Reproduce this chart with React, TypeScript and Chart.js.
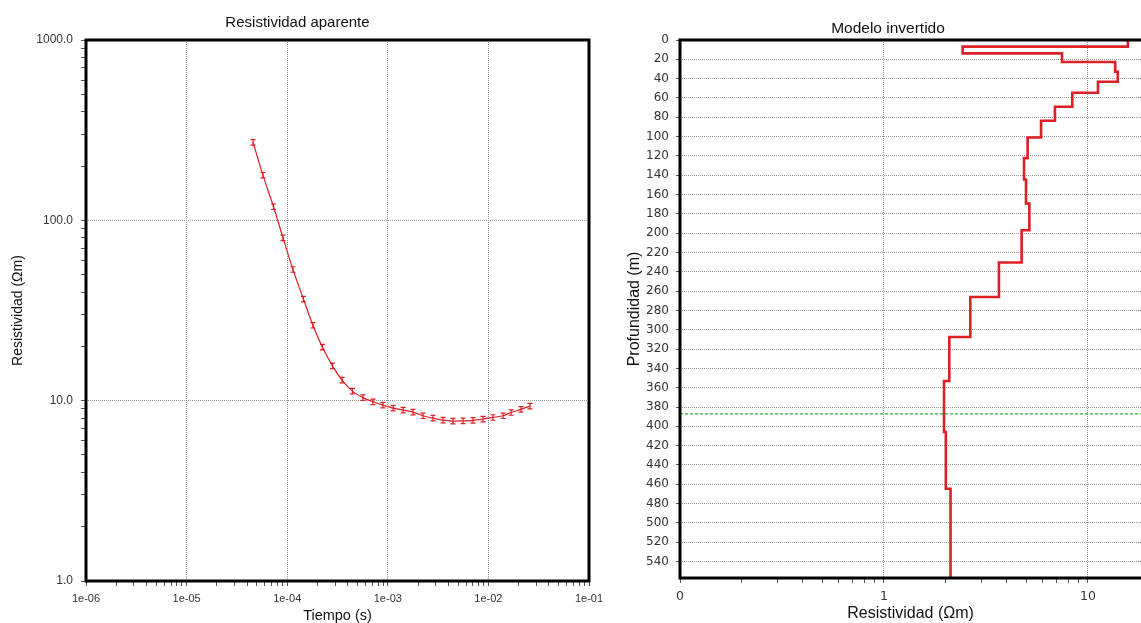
import React, { useEffect, useRef } from 'react';
import { Chart, registerables } from 'chart.js';

Chart.register(...registerables);

// ---------- Left chart: apparent resistivity ----------
const times = [4.57e-5, 5.74e-5, 7.31e-5, 9.08e-5, 1.14e-4, 1.45e-4, 1.80e-4, 2.24e-4, 2.82e-4, 3.51e-4, 4.45e-4, 5.66e-4, 7.13e-4, 8.95e-4, 1.13e-3, 1.42e-3, 1.78e-3, 2.24e-3, 2.81e-3, 3.54e-3, 4.45e-3, 5.60e-3, 7.03e-3, 8.84e-3, 1.11e-2, 1.40e-2, 1.68e-2, 2.11e-2, 2.59e-2];
const apparentRes = [271, 178, 119, 80, 53.4, 36.6, 26.2, 19.8, 15.6, 13.0, 11.3, 10.4, 9.86, 9.45, 9.10, 8.87, 8.64, 8.25, 8.00, 7.80, 7.71, 7.73, 7.78, 7.91, 8.07, 8.25, 8.60, 8.95, 9.33];
const relError = [0.035, 0.035, 0.035, 0.035, 0.035, 0.035, 0.035, 0.035, 0.035, 0.035, 0.035, 0.035, 0.035, 0.035, 0.035, 0.035, 0.035, 0.035, 0.035, 0.035, 0.035, 0.035, 0.035, 0.035, 0.035, 0.035, 0.035, 0.035, 0.035];
const timeTickValues = [1e-6, 1e-5, 1e-4, 1e-3, 1e-2, 1e-1];
const timeTickLabels = ['1e-06', '1e-05', '1e-04', '1e-03', '1e-02', '1e-01'];
const resTickValues = [1, 10, 100, 1000];
const resTickLabels = ['1.0', '10.0', '100.0', '1000.0'];

// ---------- Right chart: inverted model ----------
const layerTop = [0, 6.9, 13.8, 22.8, 32.8, 43.2, 54.6, 69.1, 83.6, 101, 122.3, 144.4, 169.2, 196.9, 230.4, 266, 307.5, 353, 405.9, 464.6];
const layerRes = [15.7, 2.43, 7.46, 13.6, 14.0, 11.2, 8.38, 6.89, 5.89, 5.06, 4.86, 4.97, 5.16, 4.73, 3.66, 2.65, 2.09, 1.97, 2.01, 2.12];
const modelBottom = 557;
const doiDepth = 387;
const depthTicks = [0, 20, 40, 60, 80, 100, 120, 140, 160, 180, 200, 220, 240, 260, 280, 300, 320, 340, 360, 380, 400, 420, 440, 460, 480, 500, 520, 540];
const modelResTickValues = [0.1, 1, 10];
const modelResTickLabels = ['0', '1', '10'];
const modelResMin = 0.1;
const modelResMax = 18.2;

const FONT = '"Liberation Sans", Arial, sans-serif';
const RED = '#dc2026';
const GRID = '#9a9a9a';

const sameVal = (a: number, b: number) => Math.abs(a - b) <= Math.abs(b) * 1e-6;
const isMajorOf = (majors: number[], v: number) => majors.some((m) => sameVal(v, m));
const labelOf = (majors: number[], labels: string[], v: number) => {
  const i = majors.findIndex((m) => sameVal(v, m));
  return i >= 0 ? labels[i] : '';
};
const logTicks = (majors: number[], max: number) => {
  const out: { value: number }[] = [];
  majors.forEach((m) => {
    for (let d = 1; d <= 9; d++) {
      const v = +(d * m).toPrecision(8);
      if (v <= max * 1.000001) out.push({ value: v });
    }
  });
  return out;
};

function framePlugin(sides: { top: boolean; right: boolean; bottom: boolean; left: boolean }, title: string, tx: number, ty: number, tsize: number) {
  return {
    id: 'frameAndTitle',
    afterDatasetsDraw(chart: any) {
      const { ctx, chartArea: a } = chart;
      ctx.save();
      ctx.strokeStyle = '#000';
      ctx.lineWidth = 3;
      ctx.lineCap = 'square';
      ctx.beginPath();
      if (sides.top) { ctx.moveTo(a.left, a.top); ctx.lineTo(a.right, a.top); }
      if (sides.right) { ctx.moveTo(a.right, a.top); ctx.lineTo(a.right, a.bottom); }
      if (sides.bottom) { ctx.moveTo(a.left, a.bottom); ctx.lineTo(a.right, a.bottom); }
      if (sides.left) { ctx.moveTo(a.left, a.top); ctx.lineTo(a.left, a.bottom); }
      ctx.stroke();
      ctx.restore();
    },
    afterDraw(chart: any) {
      const { ctx } = chart;
      ctx.save();
      ctx.fillStyle = '#111';
      ctx.font = `${tsize}px ${FONT}`;
      ctx.textAlign = 'center';
      ctx.textBaseline = 'middle';
      ctx.fillText(title, tx, ty);
      ctx.restore();
    },
  };
}

const errorBarPlugin = {
  id: 'errorBars',
  afterDatasetsDraw(chart: any) {
    const { ctx } = chart;
    const xs = chart.scales.x;
    const ys = chart.scales.y;
    ctx.save();
    ctx.strokeStyle = RED;
    ctx.lineWidth = 1.2;
    times.forEach((t, i) => {
      const x = xs.getPixelForValue(t);
      const y1 = ys.getPixelForValue(apparentRes[i] * (1 + relError[i]));
      const y2 = ys.getPixelForValue(apparentRes[i] * (1 - relError[i]));
      ctx.beginPath();
      ctx.moveTo(x, y1); ctx.lineTo(x, y2);
      ctx.moveTo(x - 2.5, y1); ctx.lineTo(x + 2.5, y1);
      ctx.moveTo(x - 2.5, y2); ctx.lineTo(x + 2.5, y2);
      ctx.stroke();
    });
    ctx.restore();
  },
};

function ApparentChart() {
  const ref = useRef<HTMLCanvasElement>(null);
  useEffect(() => {
    const chart = new Chart(ref.current as HTMLCanvasElement, {
      type: 'scatter',
      data: {
        datasets: [
          {
            data: times.map((t, i) => ({ x: t, y: apparentRes[i] })),
            showLine: true,
            borderColor: RED,
            borderWidth: 1.2,
            pointRadius: 0,
            tension: 0.3,
          },
        ],
      },
      options: {
        animation: false,
        responsive: false,
        events: [],
        layout: { padding: { top: 40, right: 31, bottom: 0, left: 0 } },
        plugins: { legend: { display: false }, title: { display: false }, tooltip: { enabled: false } },
        scales: {
          x: {
            type: 'logarithmic',
            min: 1e-6,
            max: 1e-1,
            afterBuildTicks: (s: any) => { s.ticks = logTicks(timeTickValues, 1e-1); },
            afterFit: (s: any) => { s.height = 42; s.paddingLeft = 0; s.paddingRight = 0; },
            border: { display: false, dash: [1, 1] },
            grid: {
              color: (c: any) => (c.tick && isMajorOf(timeTickValues, c.tick.value) ? GRID : 'rgba(0,0,0,0)'),
              lineWidth: 1,
              tickLength: 5,
              tickColor: '#555',
              tickBorderDash: [],
            },
            ticks: {
              autoSkip: false,
              maxRotation: 0,
              padding: 6,
              color: '#333',
              font: { family: FONT, size: 11 },
              callback: (v: any) => labelOf(timeTickValues, timeTickLabels, Number(v)),
            },
            title: {
              display: true,
              text: 'Tiempo (s)',
              color: '#111',
              font: { family: FONT, size: 14.5 },
              padding: { top: 0, bottom: -2 },
            },
          },
          y: {
            type: 'logarithmic',
            min: 1,
            max: 1000,
            afterBuildTicks: (s: any) => { s.ticks = logTicks(resTickValues, 1000); },
            afterFit: (s: any) => { s.width = 86; s.paddingTop = 0; s.paddingBottom = 0; },
            border: { display: false, dash: [1, 1] },
            grid: {
              color: (c: any) => (c.tick && isMajorOf(resTickValues, c.tick.value) ? GRID : 'rgba(0,0,0,0)'),
              lineWidth: 1,
              tickLength: 5,
              tickColor: '#555',
              tickBorderDash: [],
            },
            ticks: {
              autoSkip: false,
              padding: 8,
              color: '#333',
              font: { family: FONT, size: 12 },
              callback: (v: any) => labelOf(resTickValues, resTickLabels, Number(v)),
            },
            title: {
              display: true,
              text: 'Resistividad (Ωm)',
              color: '#111',
              font: { family: FONT, size: 14 },
              padding: { top: 10, bottom: 0 },
            },
          },
        },
      } as any,
      plugins: [errorBarPlugin, framePlugin({ top: true, right: true, bottom: true, left: true }, 'Resistividad aparente', 297.5, 22.5, 15)],
    });
    return () => chart.destroy();
  }, []);
  return <canvas ref={ref} width={620} height={623} style={{ position: 'absolute', left: 0, top: 0 }} />;
}

function ModelChart() {
  const ref = useRef<HTMLCanvasElement>(null);
  useEffect(() => {
    const steps: { x: number; y: number }[] = [];
    layerRes.forEach((r, i) => {
      const top = layerTop[i];
      const bottom = i + 1 < layerTop.length ? layerTop[i + 1] : modelBottom;
      steps.push({ x: r, y: top });
      steps.push({ x: r, y: bottom });
    });
    const chart = new Chart(ref.current as HTMLCanvasElement, {
      type: 'scatter',
      data: {
        datasets: [
          {
            data: [{ x: modelResMin, y: doiDepth }, { x: modelResMax, y: doiDepth }],
            showLine: true,
            borderColor: '#2faa3a',
            borderWidth: 1.3,
            borderDash: [3, 2],
            pointRadius: 0,
          },
          {
            data: steps,
            showLine: true,
            borderColor: RED,
            borderWidth: 2.6,
            pointRadius: 0,
            tension: 0,
            borderJoinStyle: 'miter',
          },
        ],
      },
      options: {
        animation: false,
        responsive: false,
        events: [],
        layout: { padding: { top: 40, right: 0, bottom: 0, left: 0 } },
        plugins: { legend: { display: false }, title: { display: false }, tooltip: { enabled: false } },
        scales: {
          x: {
            type: 'logarithmic',
            min: modelResMin,
            max: modelResMax,
            afterBuildTicks: (s: any) => { s.ticks = logTicks(modelResTickValues, modelResMax); },
            afterFit: (s: any) => { s.height = 45; s.paddingLeft = 0; s.paddingRight = 0; },
            border: { display: false, dash: [1, 1] },
            grid: {
              color: (c: any) => (c.tick && isMajorOf(modelResTickValues, c.tick.value) ? GRID : 'rgba(0,0,0,0)'),
              lineWidth: 1,
              tickLength: 5,
              tickColor: '#555',
              tickBorderDash: [],
            },
            ticks: {
              autoSkip: false,
              maxRotation: 0,
              padding: 6,
              color: '#333',
              font: { family: '"DejaVu Sans", sans-serif', size: 12.5 },
              callback: (v: any) => labelOf(modelResTickValues, modelResTickLabels, Number(v)),
            },
            title: {
              display: true,
              text: 'Resistividad (Ωm)',
              color: '#111',
              font: { family: FONT, size: 16 },
              padding: { top: 0, bottom: 0 },
            },
          },
          y: {
            type: 'linear',
            reverse: true,
            min: 0,
            max: modelBottom,
            afterBuildTicks: (s: any) => { s.ticks = depthTicks.map((v) => ({ value: v })); },
            afterFit: (s: any) => { s.width = 60; s.paddingTop = 0; s.paddingBottom = 0; },
            border: { display: false, dash: [1, 1] },
            grid: {
              color: GRID,
              lineWidth: 1,
              tickLength: 4,
              tickColor: '#555',
              tickBorderDash: [],
            },
            ticks: {
              autoSkip: false,
              padding: 7,
              color: '#333',
              font: { family: '"DejaVu Sans", sans-serif', size: 12 },
              callback: (v: any) => String(v),
            },
            title: {
              display: true,
              text: 'Profundidad (m)',
              color: '#111',
              font: { family: FONT, size: 16 },
              padding: { top: 5, bottom: 0 },
            },
          },
        },
      } as any,
      plugins: [framePlugin({ top: true, right: false, bottom: true, left: true }, 'Modelo invertido', 268, 29, 15.5)],
    });
    return () => chart.destroy();
  }, []);
  return <canvas ref={ref} width={521} height={623} style={{ position: 'absolute', left: 620, top: 0 }} />;
}

export default function App() {
  return (
    <div style={{ position: 'absolute', left: 0, top: 0, width: 1141, height: 623, overflow: 'hidden', background: '#fff' }}>
      <ApparentChart />
      <ModelChart />
    </div>
  );
}
